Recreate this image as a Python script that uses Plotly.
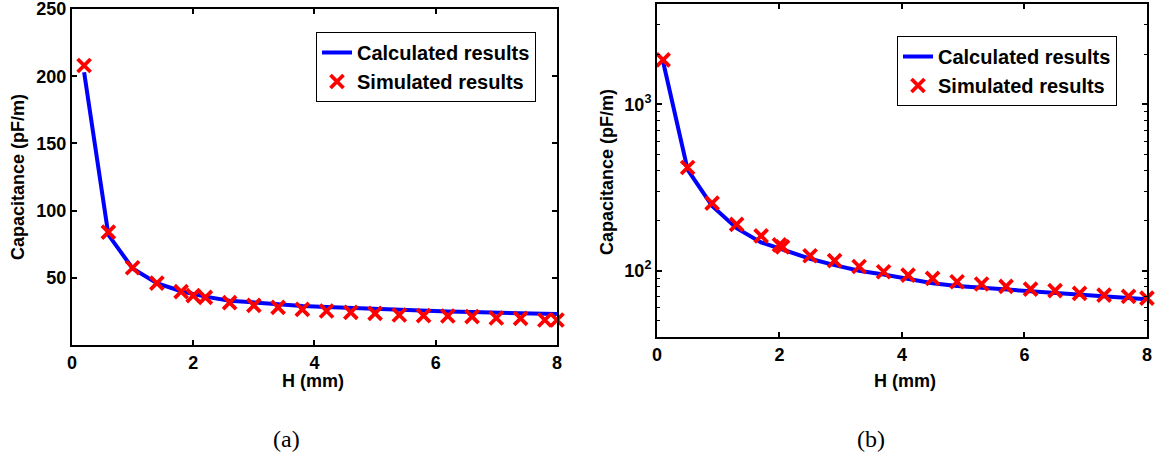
import plotly.graph_objects as go

# ---- data (a): linear axis ----
h_calc_a = [0.2, 0.6, 1.0, 1.4, 1.8, 2.0, 2.2, 2.6, 3.0, 3.4, 3.8, 4.2, 4.6, 5.0, 5.4, 5.8, 6.2, 6.6, 7.0, 7.4, 7.8, 8.0]
c_calc_a = [203, 82, 57, 46, 40, 38, 36, 33, 31.5, 30, 29, 28.3, 27.5, 26.8, 26, 25.5, 25, 24.5, 24.2, 23.8, 23.3, 23]
h_sim_a = [0.2, 0.6, 1.0, 1.4, 1.8, 2.0, 2.2, 2.6, 3.0, 3.4, 3.8, 4.2, 4.6, 5.0, 5.4, 5.8, 6.2, 6.6, 7.0, 7.4, 7.8, 8.0]
c_sim_a = [208, 84, 57.5, 46, 39.7, 36.7, 35.5, 31.5, 29.5, 28, 26.5, 25.3, 24.3, 23.6, 22.3, 21.8, 21.6, 21.1, 20.1, 19.8, 18.6, 18.6]

# ---- data (b): log axis ----
h_calc_b = [0.1, 0.5, 0.9, 1.3, 1.7, 2.0, 2.1, 2.5, 2.9, 3.3, 3.7, 4.1, 4.5, 4.9, 5.3, 5.7, 6.1, 6.5, 6.9, 7.3, 7.7, 8.0]
c_calc_b = [1800, 405, 245, 180, 148, 136, 132, 118, 108, 100, 95, 89, 84, 81, 79, 77, 75, 73, 71.5, 70, 68.5, 67.5]
h_sim_b = [0.1, 0.5, 0.9, 1.3, 1.7, 2.0, 2.05, 2.5, 2.9, 3.3, 3.7, 4.1, 4.5, 4.9, 5.3, 5.7, 6.1, 6.5, 6.9, 7.3, 7.7, 8.0]
c_sim_b = [1845, 417, 255, 190, 162, 143, 139, 123, 115, 106, 98.6, 94.2, 90, 85.9, 83.2, 80.6, 77.6, 75.9, 73.1, 71.4, 70.1, 68.5]

x_ticks = [0, 2, 4, 6, 8]
y_ticks_a = [50, 100, 150, 200, 250]
y_ticks_b = [100, 1000]
y_ticktext_b = ["10<sup>2</sup>", "10<sup>3</sup>"]

BLUE = "#0000FF"
RED = "#FF0000"
FONT = "Liberation Sans"

fig = go.Figure()

fig.add_trace(go.Scatter(x=h_calc_a, y=c_calc_a, mode="lines", name="Calculated results",
                         line=dict(color=BLUE, width=4), xaxis="x", yaxis="y",
                         legend="legend", cliponaxis=False))
fig.add_trace(go.Scatter(x=h_sim_a, y=c_sim_a, mode="markers", name="Simulated results",
                         marker=dict(symbol="x-thin", size=13, line=dict(color=RED, width=3.8), color=RED),
                         xaxis="x", yaxis="y", legend="legend", cliponaxis=False))
fig.add_trace(go.Scatter(x=h_calc_b, y=c_calc_b, mode="lines", name="Calculated results",
                         line=dict(color=BLUE, width=4), xaxis="x2", yaxis="y2",
                         legend="legend2", cliponaxis=False))
fig.add_trace(go.Scatter(x=h_sim_b, y=c_sim_b, mode="markers", name="Simulated results",
                         marker=dict(symbol="x-thin", size=13, line=dict(color=RED, width=3.8), color=RED),
                         xaxis="x2", yaxis="y2", legend="legend2", cliponaxis=False))

W, H = 1164, 461
def px(x):
    return x / W
def py(y):
    return 1 - y / H

axis_common = dict(showline=True, linecolor="black", linewidth=2, mirror="ticks",
                   ticks="inside", ticklen=5, tickwidth=1.5, tickcolor="black",
                   showgrid=False, zeroline=False, ticklabeloverflow="allow",
                   automargin=False,
                   tickfont=dict(family=FONT, size=18, color="black", weight="bold"))

fig.update_layout(
    width=W, height=H,
    margin=dict(l=0, r=0, t=0, b=0, autoexpand=False),
    paper_bgcolor="white", plot_bgcolor="white",
    xaxis=dict(domain=[px(72), px(557)], range=[0, 8.001], tickvals=x_ticks, anchor="y", **axis_common),
    yaxis=dict(domain=[py(345), py(9)], range=[0, 250.05], tickvals=y_ticks_a, anchor="x", **axis_common),
    xaxis2=dict(domain=[px(657), px(1147)], range=[0, 8.001], tickvals=x_ticks, anchor="y2", **axis_common),
    yaxis2=dict(domain=[py(337), py(4)], type="log", range=[1.602, 3.602],
                tickvals=y_ticks_b, ticktext=y_ticktext_b, anchor="x2",
                minor=dict(ticks="inside", ticklen=3, tickwidth=1, tickcolor="black", dtick="D1"),
                **axis_common),
    legend=dict(x=px(536), y=py(32), xanchor="right", yanchor="top",
                bordercolor="black", borderwidth=1, bgcolor="white",
                font=dict(family=FONT, size=20, color="black", weight="bold"),
                tracegroupgap=0, itemwidth=30),
    legend2=dict(x=px(1117), y=py(36), xanchor="right", yanchor="top",
                 bordercolor="black", borderwidth=1, bgcolor="white",
                 font=dict(family=FONT, size=20, color="black", weight="bold"),
                 tracegroupgap=0, itemwidth=30),
    showlegend=True,
)

title_font = dict(family=FONT, size=18, color="black", weight="bold")
annotations = [
    dict(text="Capacitance (pF/m)", x=px(18), y=py(177), textangle=-90, font=title_font),
    dict(text="Capacitance (pF/m)", x=px(607), y=py(172), textangle=-90, font=title_font),
    dict(text="H (mm)", x=px(313), y=py(381), font=title_font),
    dict(text="H (mm)", x=px(905), y=py(381), font=title_font),
    dict(text="(a)", x=px(286), y=py(439), font=dict(family="Liberation Serif", size=24, color="black")),
    dict(text="(b)", x=px(871), y=py(439), font=dict(family="Liberation Serif", size=24, color="black")),
]
for a in annotations:
    a.update(xref="paper", yref="paper", showarrow=False, xanchor="center", yanchor="middle")
fig.update_layout(annotations=annotations)

fig.write_html("out.html", config={"displayModeBar": False},
               post_script="document.body.style.margin='0';document.body.style.overflow='hidden';")
